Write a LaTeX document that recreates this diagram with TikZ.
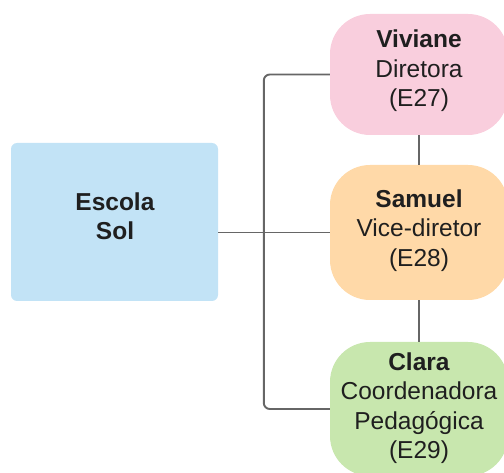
\documentclass[tikz,border=0pt]{standalone}
\usepackage{fontspec}
\setmainfont{Liberation Sans}
\begin{document}
\begin{tikzpicture}[x=1pt,y=-1pt,
  box/.style={draw=none,inner sep=0pt,rounded corners=40pt,minimum width=178pt},
  label/.style={align=center,inner sep=0pt,font=\fontsize{24.5}{29.5}\selectfont,text=black!88},
  link/.style={draw=black!60,line width=1.9pt}]
\definecolor{pinkbox}{HTML}{F9CEDD}
\definecolor{orangebox}{HTML}{FFD9A8}
\definecolor{greenbox}{HTML}{C8E7AE}
\definecolor{bluebox}{HTML}{C2E3F6}
\useasboundingbox (0,0) rectangle (504,473);
\clip (0,0) rectangle (504,473);

% school block
\node[box,fill=bluebox,rounded corners=6pt,minimum width=207pt,minimum height=158pt] (esc) at (114.5,222) {};
% staff blocks
\node[box,fill=pinkbox,minimum height=121pt] (viv) at (419,74.5) {};
\node[box,fill=orangebox,minimum height=135pt] (sam) at (419,232.5) {};
\node[box,fill=greenbox,minimum height=134pt] (cla) at (419,409) {};

% connectors
\draw[link] (esc.east |- sam.west) -- (sam.west);
\draw[link,rounded corners=6pt] (viv.west) -- ++(-66,0) |- (cla.west);
\draw[link] (viv.south) -- (sam.north);
\draw[link] (sam.south) -- (cla.north);

% texts
\node[label] (tesc) at (115,216) {\textbf{Escola}\\\textbf{Sol}};
\node[label] (tviv) at (419,71) {\textbf{Viviane}\\Diretora\\(E27)};
\node[label] (tsam) at (419,230.5) {\textbf{Samuel}\\Vice-diretor\\(E28)};
\node[label] (tcla) at (419,408) {\textbf{Clara}\\Coordenadora\\Pedagógica\\(E29)};
\end{tikzpicture}
\end{document}
